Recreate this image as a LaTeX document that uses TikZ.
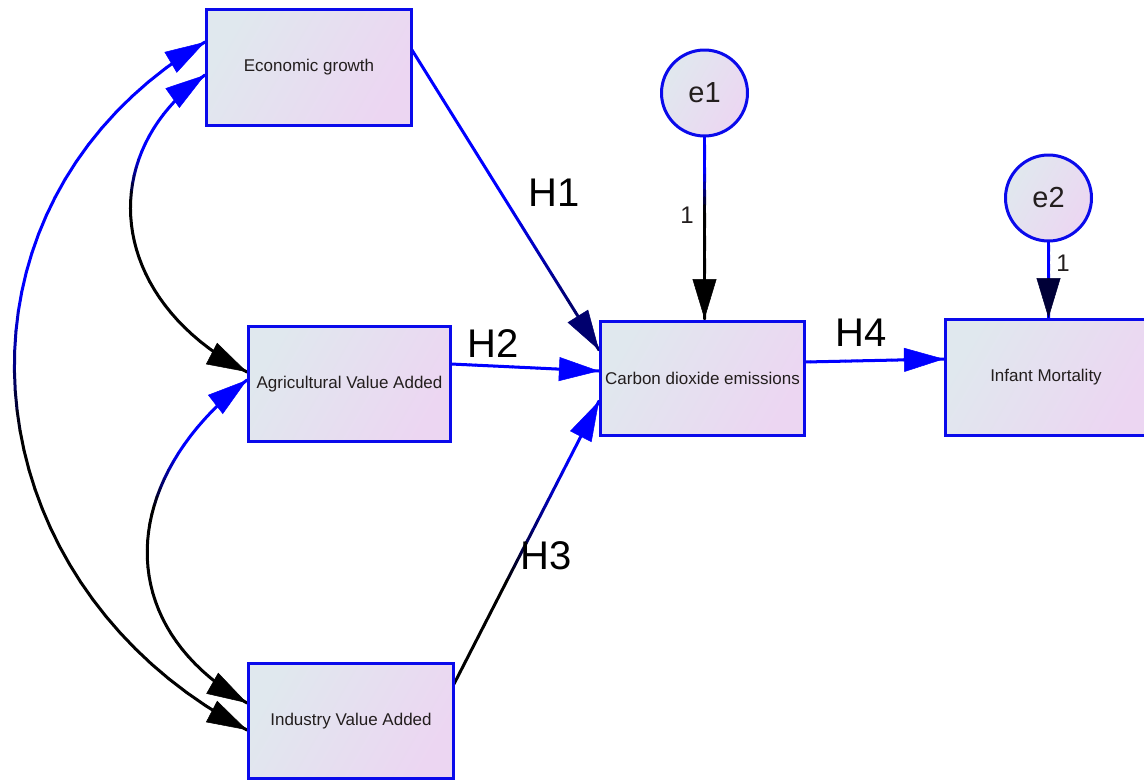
\documentclass[tikz,border=0pt]{standalone}
\usepackage{fontspec}
\setmainfont{Liberation Sans}
\usetikzlibrary{arrows.meta,calc}
\definecolor{lnblue}{RGB}{0,0,255}
\definecolor{lnnavy}{RGB}{0,0,110}
\definecolor{tipdark}{RGB}{0,0,55}
\definecolor{bxblue}{RGB}{10,10,235}
\definecolor{bxL}{RGB}{224,232,238}
\definecolor{bxR}{RGB}{236,214,242}
\definecolor{txt}{RGB}{35,30,30}
\pgfdeclarelayer{bg}
\pgfsetlayers{bg,main}
\tikzset{
  varbox/.style={rectangle, draw=bxblue, line width=3pt, left color=bxL, right color=bxR,
    shading angle=60, inner sep=0pt, text=txt, font=\fontsize{17}{20}\selectfont},
  errc/.style={circle, draw=bxblue, line width=3pt, left color=bxL, right color=bxR,
    shading angle=60, inner sep=0pt, minimum size=86pt, text=txt, font=\fontsize{29}{32}\selectfont},
  hlab/.style={inner sep=0pt, text=black, font=\fontsize{40}{44}\selectfont},
  onelab/.style={inner sep=0pt, text=txt, font=\fontsize{24}{27}\selectfont},
  conn/.style={line width=3pt, line cap=round},
  tipst/.style={line width=0.5pt, -{Triangle[length=40pt,width=24pt]}}
}
% straight gradient connector: start, end, colour A, colour B, s1, s2
\newcommand\gline[6]{%
  \foreach \i in {1,...,24}{%
    \pgfmathsetmacro\gtA{(\i-1)/24}%
    \pgfmathsetmacro\gtB{\i/24}%
    \pgfmathtruncatemacro\gpp{100*max(0,min(1,((\gtA+\gtB)/2-#5)/(#6-#5)))}%
    \draw[conn,color=#4!\gpp!#3] ($(#1)!\gtA!(#2)$) -- ($(#1)!\gtB!(#2)$);
  }}
% curved gradient connector: P0, P1, P2, P3, colour A, colour B, s1, s2
\newcommand\gcurve[8]{%
  \foreach \i in {1,...,40}{%
    \pgfmathsetmacro\gtA{(\i-1)/40}%
    \pgfmathsetmacro\gtB{\i/40}%
    \pgfmathsetmacro\bzA{(1-\gtA)^3}%
    \pgfmathsetmacro\bzB{3*(1-\gtA)^2*\gtA}%
    \pgfmathsetmacro\bzC{3*(1-\gtA)*\gtA^2}%
    \pgfmathsetmacro\bzD{\gtA^3}%
    \pgfmathsetmacro\bzE{(1-\gtB)^3}%
    \pgfmathsetmacro\bzF{3*(1-\gtB)^2*\gtB}%
    \pgfmathsetmacro\bzG{3*(1-\gtB)*\gtB^2}%
    \pgfmathsetmacro\bzH{\gtB^3}%
    \pgfmathtruncatemacro\gpp{100*max(0,min(1,((\gtA+\gtB)/2-#7)/(#8-#7)))}%
    \draw[conn,color=#6!\gpp!#5]
      ($\bzA*(#1)+\bzB*(#2)+\bzC*(#3)+\bzD*(#4)$) --
      ($\bzE*(#1)+\bzF*(#2)+\bzG*(#3)+\bzH*(#4)$);
  }}
% arrow tip: tip point, direction point, colour
\newcommand\ctip[3]{\draw[tipst,#3] ($(#1)!40pt!(#2)$) -- (#1);}

\begin{document}
\begin{tikzpicture}[x=1pt,y=-1pt]
\useasboundingbox (0,0) rectangle (1144,782);

% nodes
\node[varbox, minimum width=205pt, minimum height=116pt] (EG) at (309,67.5) {Economic growth};
\node[varbox, minimum width=202pt, minimum height=115pt] (AV) at (349.5,384) {Agricultural Value Added};
\node[varbox, minimum width=205pt, minimum height=115pt] (IV) at (351,721) {Industry Value Added};
\node[varbox, minimum width=204pt, minimum height=114pt] (CO) at (702.5,378.5) {Carbon dioxide emissions};
\node[varbox, minimum width=201pt, minimum height=116pt] (IM) at (1046,377.5) {Infant Mortality};
\node[errc] (E1) at (704.5,93) {e1};
\node[errc] (E2) at (1048.5,198) {e2};

% attachment points
\coordinate (h1s) at (412,50);   \coordinate (h1e) at (599,350);
\coordinate (h2s) at (451,364);  \coordinate (h2e) at (599,371);
\coordinate (h3s) at (454,684);  \coordinate (h3e) at (599,401);
\coordinate (h4s) at (805,362);  \coordinate (h4e) at (944,359);
\coordinate (e1s) at (704.5,137); \coordinate (e1e) at (704.5,319);
\coordinate (e2s) at (1048.5,242); \coordinate (e2e) at (1048.5,318);
% covariance curves
\coordinate (oa) at (205,42);  \coordinate (oc1) at (-70,205); \coordinate (oc2) at (-40,580); \coordinate (ob) at (247,730);
\coordinate (ua) at (205,75);  \coordinate (uc1) at (95,153);  \coordinate (uc2) at (105,298); \coordinate (ub) at (247,372);
\coordinate (la) at (247,380); \coordinate (lc1) at (118,480); \coordinate (lc2) at (110,625); \coordinate (lb) at (247,703);

\begin{pgfonlayer}{bg}
\gline{h1s}{h1e}{lnblue}{lnnavy}{0.5}{0.85}
\gline{h2s}{h2e}{lnblue}{lnblue}{0}{1}
\gline{h3s}{h3e}{black}{lnblue}{0.35}{0.8}
\gline{h4s}{h4e}{lnblue}{lnblue}{0}{1}
\gline{e1s}{e1e}{lnblue}{black}{0.2}{0.4}
\gline{e2s}{e2e}{lnblue}{lnblue}{0}{1}
\gcurve{oa}{oc1}{oc2}{ob}{lnblue}{black}{0.38}{0.55}
\gcurve{ua}{uc1}{uc2}{ub}{lnblue}{black}{0.28}{0.42}
\gcurve{la}{lc1}{lc2}{lb}{lnblue}{black}{0.22}{0.38}
\end{pgfonlayer}

% arrow heads
\ctip{h1e}{h1s}{lnnavy}
\ctip{h2e}{h2s}{lnblue}
\ctip{h3e}{h3s}{lnblue}
\ctip{h4e}{h4s}{lnblue}
\ctip{e1e}{e1s}{black}
\ctip{e2e}{e2s}{tipdark}
\ctip{oa}{oc1}{lnblue}
\ctip{ob}{oc2}{black}
\ctip{ua}{uc1}{lnblue}
\ctip{ub}{uc2}{black}
\ctip{la}{lc1}{lnblue}
\ctip{lb}{lc2}{black}

% labels
\node[hlab] (H1) at (554,193) {H1};
\node[hlab] (H2) at (493,344) {H2};
\node[hlab] (H3) at (546,556) {H3};
\node[hlab] (H4) at (861,333) {H4};
\node[onelab] (one1) at (687,215) {1};
\node[onelab] (one2) at (1063,263) {1};
\end{tikzpicture}
\end{document}
